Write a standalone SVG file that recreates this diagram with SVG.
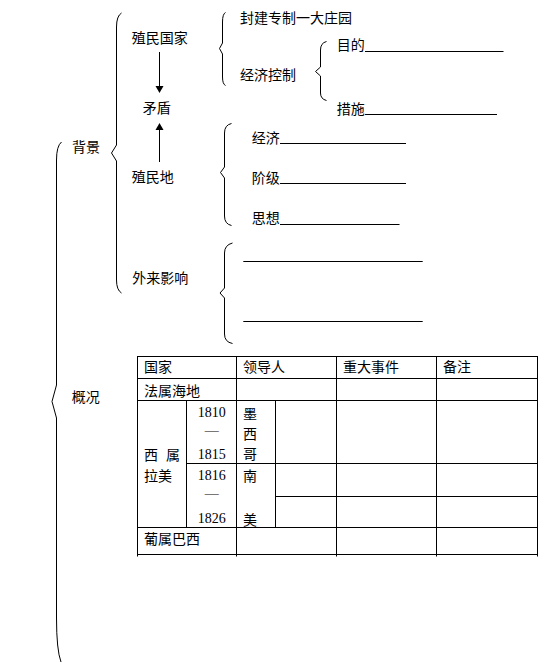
<svg xmlns="http://www.w3.org/2000/svg" width="545" height="663" viewBox="0 0 545 663">
<style>
.t{font-family:"Noto Sans CJK SC","Noto Sans CJK TC",sans-serif;font-size:14px;fill:#000}
.n{font-family:"Liberation Serif",serif;font-size:14px;fill:#000}
.br{fill:none;stroke:#000;stroke-width:1}
.ln{fill:none;stroke:#000;stroke-width:1}
</style>
<rect width="545" height="663" fill="#fff"/>
<g id="braces">
<path class="br" d="M61.5 142 Q56.5 146 56.5 160 L56.5 385 L52 401.5 L56.5 418 L56.5 618 Q56.5 650 61 662"/>
<path class="br" d="M121.5 13 Q116.5 16 116.5 27 L116.5 145 L111.5 153 L116.5 161 L116.5 280 Q116.5 290 121.5 293"/>
<path class="br" d="M225.5 12.5 Q222.5 14 222.5 22 L222.5 43 L219.5 48.5 L222.5 54 L222.5 77 Q222.5 84 225.5 85.5"/>
<path class="br" d="M326.5 41.5 Q320.5 43 320.5 50 L320.5 67 L315.5 71.5 L320.5 76 L320.5 93 Q320.5 99 326.5 100.5"/>
<path class="br" d="M231.5 123.5 Q224.5 125 224.5 133 L224.5 167 L220.5 172.5 L224.5 178 L224.5 216 Q224.5 224 231.5 225.5"/>
<path class="br" d="M232.5 243 Q224.5 245 224.5 253 L224.5 288 L220 293 L224.5 298 L224.5 334 Q224.5 342 232.5 343.5"/>
</g>
<g id="connectors">
<line class="ln" x1="159.5" y1="52" x2="159.5" y2="87"/>
<polygon points="155.5,86 163.5,86 159.5,93" fill="#000"/>
<line class="ln" x1="159.5" y1="129" x2="159.5" y2="162"/>
<polygon points="155.5,130 163.5,130 159.5,123" fill="#000"/>
</g>
<g id="n-beijing"><text class="t" x="72" y="151.6">背景</text></g>
<g id="n-gaikuang"><text class="t" x="71.7" y="402">概况</text></g>
<g id="n-zhiminguojia"><text class="t" x="131.7" y="42.8">殖民国家</text></g>
<g id="n-maodun"><text class="t" x="142.7" y="112.8">矛盾</text></g>
<g id="n-zhimindi"><text class="t" x="131.7" y="181.5">殖民地</text></g>
<g id="n-wailai"><text class="t" x="132.3" y="282.8">外来影响</text></g>
<g id="n-fengjian"><text class="t" x="240" y="23.3">封建专制一大庄园</text></g>
<g id="n-jingjikongzhi"><text class="t" x="240" y="80.3">经济控制</text></g>
<g id="n-mudi"><text class="t" x="336.7" y="50.3">目的</text><line class="ln" x1="365" y1="51.5" x2="503.5" y2="51.5"/></g>
<g id="n-cuoshi"><text class="t" x="336.7" y="113.6">措施</text><line class="ln" x1="365" y1="114.5" x2="497" y2="114.5"/></g>
<g id="n-jingji"><text class="t" x="251.7" y="142.8">经济</text><line class="ln" x1="280" y1="143.5" x2="406" y2="143.5"/></g>
<g id="n-jieji"><text class="t" x="251.7" y="182.8">阶级</text><line class="ln" x1="280" y1="183.5" x2="406" y2="183.5"/></g>
<g id="n-sixiang"><text class="t" x="251.7" y="223">思想</text><line class="ln" x1="280" y1="224.5" x2="399.5" y2="224.5"/></g>
<g id="n-blank1"><line class="ln" x1="243.3" y1="261.5" x2="422.7" y2="261.5"/></g>
<g id="n-blank2"><line class="ln" x1="243.3" y1="321.5" x2="422.7" y2="321.5"/></g>
<g id="table">
<g class="ln" stroke="#000">
<line x1="137" y1="356.5" x2="538" y2="356.5"/>
<line x1="137" y1="378.5" x2="538" y2="378.5"/>
<line x1="137" y1="400.5" x2="538" y2="400.5"/>
<line x1="186.5" y1="463.5" x2="538" y2="463.5"/>
<line x1="275.5" y1="496.5" x2="538" y2="496.5"/>
<line x1="137" y1="527.5" x2="538" y2="527.5"/>
<line x1="137" y1="554.5" x2="538" y2="554.5"/>
<line x1="137.5" y1="356" x2="137.5" y2="556.5"/>
<line x1="236.5" y1="356" x2="236.5" y2="556.5"/>
<line x1="336.5" y1="356" x2="336.5" y2="556.5"/>
<line x1="436.5" y1="356" x2="436.5" y2="556.5"/>
<line x1="537.5" y1="356" x2="537.5" y2="556.5"/>
<line x1="186.5" y1="400.5" x2="186.5" y2="527.5"/>
<line x1="275.5" y1="400.5" x2="275.5" y2="527.5"/>
</g>
<text class="t" x="144" y="372">国家</text>
<text class="t" x="243" y="372">领导人</text>
<text class="t" x="343" y="372">重大事件</text>
<text class="t" x="443" y="372">备注</text>
<text class="t" x="144" y="396">法属海地</text>
<text class="t" x="144" y="459.5">西</text>
<text class="t" x="166" y="459.5">属</text>
<text class="t" x="144" y="480.5">拉美</text>
<text class="n" x="211.7" y="417.3" text-anchor="middle">1810</text>
<text class="n" x="211.7" y="435" text-anchor="middle">—</text>
<text class="n" x="211.7" y="459" text-anchor="middle">1815</text>
<text class="n" x="211.7" y="480" text-anchor="middle">1816</text>
<text class="n" x="211.7" y="498.3" text-anchor="middle">—</text>
<text class="n" x="211.7" y="523" text-anchor="middle">1826</text>
<text class="t" x="243" y="418.5">墨</text>
<text class="t" x="243" y="438.5">西</text>
<text class="t" x="243" y="459">哥</text>
<text class="t" x="243" y="480.5">南</text>
<text class="t" x="243" y="524.5">美</text>
<text class="t" x="144" y="544">葡属巴西</text>
</g>
</svg>
